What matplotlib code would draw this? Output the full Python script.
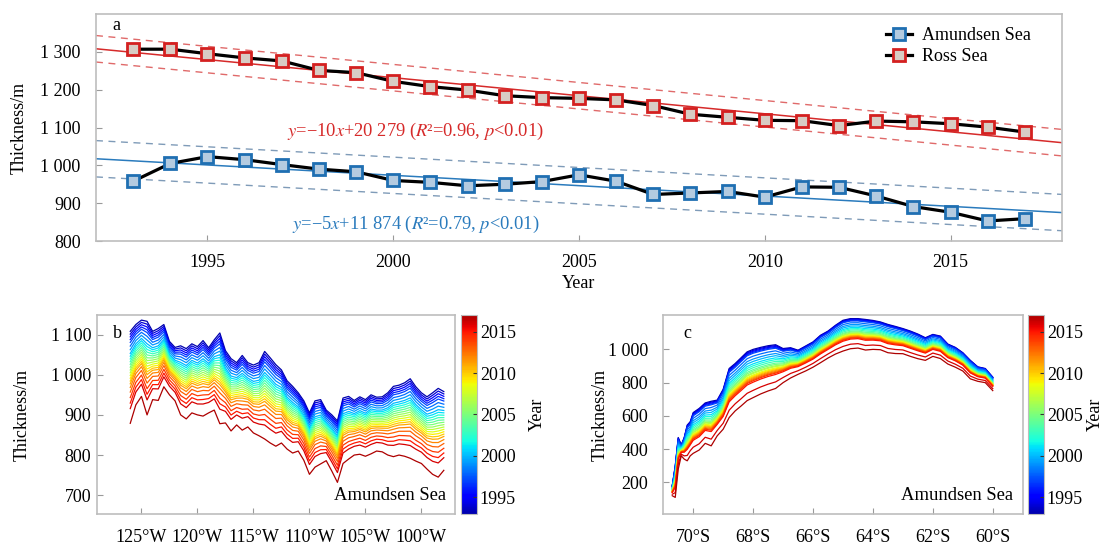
import numpy as np
import matplotlib
matplotlib.use("Agg")
import matplotlib.pyplot as plt
from matplotlib.ticker import FuncFormatter
from matplotlib.colors import Normalize, LinearSegmentedColormap
from matplotlib.cm import ScalarMappable

plt.rcParams['font.family'] = ['Liberation Serif', 'DejaVu Serif']
plt.rcParams['mathtext.fontset'] = 'stix'
plt.rcParams['axes.unicode_minus'] = True

# ---- panel a: yearly mean thickness ----
years = list(range(1993, 2018))
ross = [1307, 1307, 1295, 1284, 1276, 1251, 1245, 1222, 1208, 1199, 1184, 1179, 1177,
        1173, 1158, 1135, 1127, 1119, 1118, 1105, 1117, 1115, 1110, 1101, 1088]
amundsen = [958, 1005, 1023, 1015, 1002, 990, 983, 960, 955, 946, 950, 957, 975,
            958, 923, 927, 931, 916, 943, 942, 919, 891, 876, 853, 859]
ross_band = 35       # half width of dashed band (m)
amundsen_band = 48
ross_eq = r"$y$=−10$x$+20 279 ($R$²=0.96, $p$<0.01)"
amundsen_eq = r"$y$=−5$x$+11 874 ($R$²=0.79, $p$<0.01)"

# ---- panel b: thickness along longitude, earliest (top) and latest (bottom) profile ----
lon_b = [-126.0, -125.5, -125.0, -124.5, -124.0, -123.5, -123.0, -122.5, -122.0, -121.5,
         -121.0, -120.5, -120.0, -119.5, -119.0, -118.5, -118.0, -117.5, -117.0, -116.5,
         -116.0, -115.5, -115.0, -114.5, -114.0, -113.5, -113.0, -112.5, -112.0, -111.5,
         -111.0, -110.5, -110.0, -109.5, -109.0, -108.5, -108.0, -107.5, -107.0, -106.5,
         -106.0, -105.5, -105.0, -104.5, -104.0, -103.5, -103.0, -102.5, -102.0, -101.5,
         -101.0, -100.5, -100.0, -99.5, -99.0, -98.5, -98.0]
b_top = [1108, 1125, 1136, 1133, 1108, 1115, 1125, 1083, 1068, 1072,
         1065, 1077, 1070, 1085, 1067, 1087, 1104, 1060, 1040, 1030,
         1048, 1030, 1024, 1030, 1058, 1042, 1025, 1012, 985, 971,
         955, 935, 905, 935, 938, 912, 900, 885, 942, 946,
         936, 945, 938, 950, 944, 945, 955, 971, 974, 980,
         990, 970, 955, 945, 955, 966, 958]
b_bottom = [879, 925, 946, 900, 938, 936, 970, 950, 935, 900,
            890, 905, 900, 897, 905, 912, 878, 880, 860, 875,
            862, 870, 855, 848, 840, 830, 822, 830, 815, 805,
            810, 787, 752, 770, 778, 786, 760, 732, 779, 790,
            800, 802, 797, 803, 810, 808, 800, 796, 800, 797,
            792, 785, 779, 765, 752, 745, 762]
b_weight = [0.00, 0.03, 0.06, 0.09, 0.12, 0.16, 0.20, 0.24, 0.27, 0.30, 0.33, 0.36, 0.39,
            0.42, 0.45, 0.48, 0.51, 0.54, 0.57, 0.61, 0.66, 0.72, 0.78, 0.84, 1.00]

# ---- panel c: thickness along latitude ----
lat_c = [-70.7, -70.6, -70.5, -70.4, -70.3, -70.2, -70.1, -70.0, -69.8, -69.6,
         -69.4, -69.2, -69.0, -68.8, -68.6, -68.4, -68.2, -68.0, -67.75, -67.5,
         -67.25, -67.0, -66.75, -66.5, -66.25, -66.0, -65.75, -65.5, -65.25, -65.0,
         -64.75, -64.5, -64.25, -64.0, -63.75, -63.5, -63.25, -63.0, -62.75, -62.5,
         -62.25, -62.0, -61.75, -61.5, -61.25, -61.0, -60.75, -60.5, -60.25, -60.0]
c_top = [180, 300, 470, 425, 470, 545, 565, 620, 645, 678,
         688, 695, 760, 885, 915, 950, 985, 1000, 1012, 1022,
         1028, 1005, 1010, 995, 1020, 1045, 1085, 1110, 1145, 1175,
         1185, 1185, 1180, 1174, 1165, 1150, 1138, 1125, 1110, 1092,
         1070, 1090, 1080, 1032, 1012, 980, 934, 895, 885, 833]
c_bottom = [120, 110, 280, 360, 340, 330, 360, 375, 395, 435,
            420, 480, 520, 590, 630, 660, 692, 710, 732, 750,
            765, 800, 828, 850, 870, 893, 920, 948, 972, 990,
            1004, 1008, 996, 1000, 998, 980, 975, 974, 958, 944,
            934, 958, 945, 912, 893, 870, 823, 808, 800, 752]
c_weight = [0.00, 0.02, 0.04, 0.06, 0.08, 0.14, 0.20, 0.25, 0.30, 0.34, 0.38, 0.42, 0.45,
            0.48, 0.50, 0.53, 0.55, 0.57, 0.59, 0.61, 0.63, 0.65, 0.68, 0.85, 1.00]

cbar_ticks = [1995, 2000, 2005, 2010, 2015]

spine_grey = '#bdbdbd'
fs = 13


def thousands(v, pos):
    return f"{v:,.0f}".replace(",", " ")


def style_axes(ax):
    for s in ax.spines.values():
        s.set_color(spine_grey)
        s.set_linewidth(1.2)
    ax.tick_params(direction='in', color='#9a9a9a', length=4, labelsize=fs)


fig = plt.figure(figsize=(11.06, 5.47), dpi=100)

# ================= panel a =================
ax = fig.add_axes([0.0868, 0.5594, 0.8734, 0.415])
style_axes(ax)
yr = np.array(years)
xfit = np.array([1992, 2018])
series = [(amundsen, amundsen_band, '#2a7bbd', '#7f9bb8', '#1f6fb2', '#b4cbe0', amundsen_eq, 845, 'Amundsen Sea'),
          (ross, ross_band, '#d62a2a', '#e06a6a', '#d42020', '#d8ccc4', ross_eq, 1089, 'Ross Sea')]
for vals, band, lc, dc, ec, fc, eq, ty, name in series:
    k, b0 = np.polyfit(yr, vals, 1)
    yfit = k * xfit + b0
    ax.plot(xfit, yfit, color=lc, lw=1.1, zorder=2)
    ax.plot(xfit, yfit + band, color=dc, lw=1.0, ls=(0, (5, 4)), zorder=2)
    ax.plot(xfit, yfit - band, color=dc, lw=1.0, ls=(0, (5, 4)), zorder=2)
    ax.plot(years, vals, color='black', lw=2.3, marker='s', ms=8.5, mew=2.0,
            mec=ec, mfc=fc, zorder=3, label=name)
    ax.text(2000.6, ty, eq, color=lc, fontsize=13.3, ha='center', va='center')

ax.set_xlim(1992, 2018)
ax.set_ylim(800, 1400)
ax.set_xticks([1995, 2000, 2005, 2010, 2015])
ax.set_yticks([800, 900, 1000, 1100, 1200, 1300])
ax.yaxis.set_major_formatter(FuncFormatter(thousands))
ax.tick_params(axis='x', pad=9)
ax.tick_params(axis='y', pad=11)
ax.set_xlabel('Year', fontsize=fs, labelpad=3)
ax.set_ylabel('Thickness/m', fontsize=fs, labelpad=9)
ax.text(0.017, 0.95, 'a', transform=ax.transAxes, fontsize=fs, va='center', ha='left')
ax.legend(loc='upper right', bbox_to_anchor=(0.985, 1.015), frameon=False, fontsize=13,
          handlelength=1.4, handletextpad=0.6, labelspacing=0.25)

# ================= panels b and c =================
norm = Normalize(1993, 2017)
cmap = LinearSegmentedColormap.from_list('jet_cut', plt.get_cmap('jet')(np.linspace(0.04, 0.96, 256)))

panels = [
    ([0.0874, 0.0609, 0.324, 0.3627], [0.4168, 0.0609, 0.0145, 0.3627],
     lon_b, b_top, b_bottom, b_weight, (-129, -97), (654, 1148),
     [-125, -120, -115, -110, -105, -100], [700, 800, 900, 1000, 1100], 'W', 'b', 4, 14, 9),
    ([0.5997, 0.0609, 0.325, 0.3627], [0.9295, 0.0609, 0.0145, 0.3627],
     lat_c, c_top, c_bottom, c_weight, (-71, -59), (12, 1205),
     [-70, -68, -66, -64, -62, -60], [200, 400, 600, 800, 1000], 'S', 'c', 11, -1, 3),
]
for rect, crect, xs, top, bottom, weights, xl, yl, xt, yt, hemi, tag, ypad, ylp, cbp in panels:
    axp = fig.add_axes(rect)
    style_axes(axp)
    top = np.array(top)
    bottom = np.array(bottom)
    for y, w in zip(years, weights):
        axp.plot(xs, top + w * (bottom - top), color=cmap(norm(y)), lw=0.9)
    axp.set_xlim(*xl)
    axp.set_ylim(*yl)
    axp.set_xticks(xt)
    axp.set_yticks(yt)
    axp.xaxis.set_major_formatter(FuncFormatter(lambda v, p, h=hemi: f"{abs(v):.0f}°{h}"))
    axp.yaxis.set_major_formatter(FuncFormatter(thousands))
    axp.tick_params(axis='x', pad=11)
    axp.tick_params(axis='y', pad=ypad)
    axp.set_ylabel('Thickness/m', fontsize=fs, labelpad=ylp)
    axp.text(0.045 if tag == 'b' else 0.055, 0.91, tag, transform=axp.transAxes,
             fontsize=fs, va='center', ha='left')
    axp.text(0.974, 0.09, 'Amundsen Sea', transform=axp.transAxes, fontsize=13.4,
             ha='right', va='center')

    cax = fig.add_axes(crect)
    cb = fig.colorbar(ScalarMappable(norm=norm, cmap=cmap), cax=cax, ticks=cbar_ticks)
    cb.outline.set_edgecolor(spine_grey)
    cb.ax.tick_params(direction='in', length=3, color='#333333', labelsize=fs, pad=2)
    cb.set_label('Year', fontsize=fs, labelpad=cbp)

fig.savefig('out.png', dpi=100)
